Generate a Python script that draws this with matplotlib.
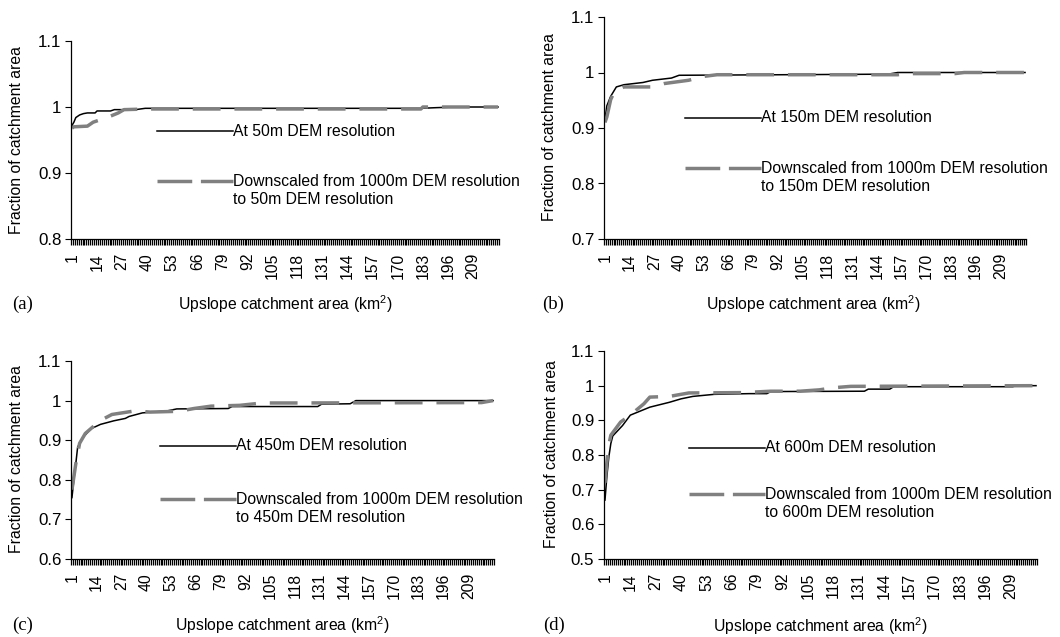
import numpy as np
import matplotlib
matplotlib.use('Agg')
import matplotlib.pyplot as plt
from matplotlib.lines import Line2D
from matplotlib.ticker import FixedLocator, FuncFormatter

plt.rcParams['font.family'] = ['Liberation Sans', 'DejaVu Sans']
plt.rcParams['mathtext.fontset'] = 'custom'
plt.rcParams['mathtext.rm'] = 'Liberation Sans'
plt.rcParams['mathtext.it'] = 'Liberation Sans'

# ---------------------------------------------------------------------------
# Data (category index on the x axis, fraction of catchment area on y)
# ---------------------------------------------------------------------------

N_CATEGORIES = 222
XTICKS = [1, 14, 27, 40, 53, 66, 79, 92, 105, 118, 131, 144, 157, 170, 183, 196, 209]

# (a) 50 m
black_a_x = [1, 2, 3, 5, 7, 9, 13, 14, 21, 23, 34, 39, 182, 190, 200, 222]
black_a_y = [0.972, 0.977, 0.984, 0.988, 0.990, 0.991, 0.991, 0.994, 0.994, 0.996, 0.996, 0.998,
             0.998, 0.999, 1.0, 1.0]
gray_a_x = [1, 2, 9, 12, 13, 20, 25, 28, 40, 182, 183, 195, 222]
gray_a_y = [0.968, 0.970, 0.971, 0.977, 0.978, 0.985, 0.991, 0.996, 0.997, 0.997, 1.0, 1.0, 1.0]

# (b) 150 m
black_b_x = [1, 2, 4, 7, 11, 16, 21, 26, 31, 36, 40, 150, 155, 222]
black_b_y = [0.915, 0.940, 0.957, 0.974, 0.978, 0.980, 0.982, 0.986, 0.988, 0.990, 0.995,
             0.997, 1.0, 1.0]
gray_b_x = [1, 2, 4, 6, 11, 25, 32, 45, 53, 60, 155, 160, 185, 190, 222]
gray_b_y = [0.910, 0.920, 0.951, 0.966, 0.974, 0.974, 0.980, 0.986, 0.993, 0.996, 0.996,
            0.998, 0.998, 1.0, 1.0]

# (c) 450 m
black_c_x = [1, 2, 3, 4, 7, 11, 16, 23, 29, 31, 38, 51, 56, 83, 85, 130, 132, 147, 150, 222]
black_c_y = [0.755, 0.800, 0.840, 0.883, 0.908, 0.929, 0.940, 0.949, 0.955, 0.960, 0.969,
             0.974, 0.979, 0.980, 0.985, 0.985, 0.991, 0.992, 1.0, 1.0]
gray_c_x = [1, 3, 5, 8, 14, 18, 22, 34, 42, 57, 65, 74, 89, 101, 118, 216, 222]
gray_c_y = [0.775, 0.840, 0.892, 0.917, 0.942, 0.955, 0.965, 0.974, 0.971, 0.973, 0.980,
            0.986, 0.988, 0.994, 0.994, 0.995, 1.0]

# (d) 600 m
black_d_x = [1, 2, 3, 4, 5, 10, 14, 24, 34, 40, 46, 57, 75, 84, 86, 134, 136, 147, 149, 210, 212, 222]
black_d_y = [0.670, 0.740, 0.795, 0.833, 0.855, 0.885, 0.915, 0.938, 0.952, 0.962, 0.969,
             0.975, 0.977, 0.977, 0.983, 0.984, 0.990, 0.990, 0.997, 0.997, 1.0, 1.0]
gray_d_x = [1, 2, 3, 4, 9, 14, 21, 24, 34, 44, 72, 86, 101, 111, 118, 127, 222]
gray_d_y = [0.720, 0.780, 0.830, 0.857, 0.895, 0.915, 0.948, 0.967, 0.969, 0.979, 0.980,
            0.984, 0.984, 0.988, 0.994, 0.998, 1.0]

PANELS = [
    # letter, res, black, gray, ylim, axes box (px: left, top, right, bottom)
    ('(a)', '50m', (black_a_x, black_a_y), (gray_a_x, gray_a_y), (0.8, 1.1), (71, 41, 499, 239)),
    ('(b)', '150m', (black_b_x, black_b_y), (gray_b_x, gray_b_y), (0.7, 1.1), (604, 17, 1026, 239)),
    ('(c)', '450m', (black_c_x, black_c_y), (gray_c_x, gray_c_y), (0.6, 1.1), (71, 361, 494, 559)),
    ('(d)', '600m', (black_d_x, black_d_y), (gray_d_x, gray_d_y), (0.5, 1.1), (604, 351, 1037, 559)),
]
YTICKS = {
    '(a)': [0.8, 0.9, 1.0, 1.1],
    '(b)': [0.7, 0.8, 0.9, 1.0, 1.1],
    '(c)': [0.6, 0.7, 0.8, 0.9, 1.0, 1.1],
    '(d)': [0.5, 0.6, 0.7, 0.8, 0.9, 1.0, 1.1],
}
# legend anchor (px): handle start x, first row y, dashed row y
KEYS = {'(a)': (157, 131, 181), '(b)': (685, 118, 168),
        '(c)': (160, 446, 499), '(d)': (689, 448, 494)}
# panel letter / x-label / y-label positions (px)
LETTERS = {'(a)': (12, 304), '(b)': (542, 304), '(c)': (12, 625), '(d)': (543, 625)}
XLABELS = {'(a)': (285, 304), '(b)': (813, 304), '(c)': (282, 625), '(d)': (820, 626)}
YLABELS = {'(a)': (17, 140), '(b)': (550, 127), '(c)': (17, 459), '(d)': (551, 454)}

W, H = 1060, 637
FS = 11.3
GRAY = '#808080'

fig = plt.figure(figsize=(W / 100, H / 100), dpi=100)


def fx(px):
    return px / W


def fy(py):
    return 1 - py / H


for letter, res, black, gray, ylim, box in PANELS:
    l, t, r, b = box
    ax = fig.add_axes([fx(l), fy(b), (r - l) / W, (b - t) / H])
    ax.plot(black[0], black[1], color='black', lw=1.1, solid_joinstyle='round')
    ax.plot(gray[0], gray[1], color=GRAY, lw=2.5, dashes=(8, 4), dash_capstyle='butt')

    ax.set_xlim(0.5, N_CATEGORIES + 0.5)
    ax.set_ylim(*ylim)
    ax.spines['top'].set_visible(False)
    ax.spines['right'].set_visible(False)
    ax.spines['left'].set_linewidth(0.9)
    ax.spines['bottom'].set_linewidth(0.9)

    ax.set_xticks(XTICKS)
    ax.set_xticklabels([str(v) for v in XTICKS], rotation=90, fontsize=FS)
    ax.xaxis.set_minor_locator(FixedLocator(np.arange(0.5, N_CATEGORIES + 1)))
    ax.tick_params(axis='x', which='major', length=0, pad=10)
    ax.tick_params(axis='x', which='minor', length=4.5, width=0.9, direction='out')
    ax.set_yticks(YTICKS[letter])
    ax.yaxis.set_major_formatter(FuncFormatter(lambda v, p: '%g' % round(v, 2)))
    ax.tick_params(axis='y', length=4, width=0.8, pad=3, labelsize=12.2)

    # legend key drawn like the spreadsheet original
    hx, y1, y2 = KEYS[letter]
    fig.add_artist(Line2D([fx(hx), fx(hx + 76)], [fy(y1)] * 2, color='black', lw=1.1))
    fig.add_artist(Line2D([fx(hx), fx(hx + 76)], [fy(y2)] * 2, color=GRAY, lw=2.5,
                          dashes=(10, 2.5), dash_capstyle='butt'))
    fig.text(fx(hx + 76), fy(y1), f'At {res} DEM resolution', fontsize=FS, va='center', ha='left')
    fig.text(fx(hx + 76), fy(y2 + 9.5),
             f'Downscaled from 1000m DEM resolution\nto {res} DEM resolution',
             fontsize=FS, va='center', ha='left', linespacing=1.2)

    lx, ly = LETTERS[letter]
    fig.text(fx(lx), fy(ly), letter, fontsize=13.5, family='Liberation Serif', va='center', ha='left')
    cx, cy = XLABELS[letter]
    fig.text(fx(cx), fy(cy), 'Upslope catchment area (km$^2$)', fontsize=FS, va='center', ha='center')
    yx, yy = YLABELS[letter]
    fig.text(fx(yx), fy(yy), 'Fraction of catchment area', fontsize=FS, rotation=90,
             va='center', ha='center')

fig.savefig('out.png', dpi=100)
